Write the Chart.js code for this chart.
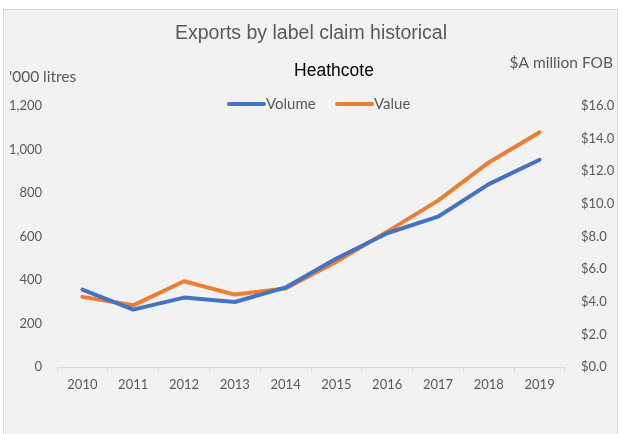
<!DOCTYPE html>
<html>
<head>
<meta charset="utf-8">
<script src="https://cdn.jsdelivr.net/npm/chart.js@4.4.1/dist/chart.umd.min.js"></script>
<style>
    html, body { margin: 0; padding: 0; background: #fff; }
    #wrap { width: 620px; height: 434px; }
</style>
</head>
<body>
<div id="wrap"><canvas id="chartExports" width="620" height="434"></canvas></div>
<script>
// datos
const years = ['2010', '2011', '2012', '2013', '2014', '2015', '2016', '2017', '2018', '2019'];
const volume = [356, 264, 319, 299, 366, 499, 615, 691, 841, 953];   // '000 litres
const value = [4.30, 3.78, 5.26, 4.44, 4.81, 6.45, 8.30, 10.20, 12.54, 14.39]; // $A million FOB
const volumeTicks = [0, 200, 400, 600, 800, 1000, 1200];
const valueTicks = [0, 2, 4, 6, 8, 10, 12, 14, 16];

const GRAY = '#595959';
const BLUE = '#4472c4';
const ORANGE = '#ed7d31';
const TICK_FONT = { family: 'Lato', size: 13 };

const canvas = document.getElementById('chartExports');
const ctx = canvas.getContext('2d');

// fondo gris con borde, como el panel de Excel
const panelPlugin = {
    id: 'panel',
    beforeDraw(chart) {
        const c = chart.ctx;
        c.save();
        c.fillStyle = '#ffffff';
        c.fillRect(0, 0, chart.width, chart.height);
        c.fillStyle = '#f2f2f2';
        c.fillRect(3, 9, 615, 430);
        c.strokeStyle = '#d9d9d9';
        c.lineWidth = 1;
        c.strokeRect(3.5, 9.5, 614, 430);
        c.restore();
    }
};

// titulos, nombres de ejes y leyenda
const textPlugin = {
    id: 'textos',
    afterDraw(chart) {
        const c = chart.ctx;
        c.save();
        c.textBaseline = 'middle';

        c.fillStyle = GRAY;
        c.font = '19.5px "Liberation Sans", Arial, sans-serif';
        c.textAlign = 'center';
        c.fillText('Exports by label claim historical', 311, 34);

        c.fillStyle = '#000000';
        c.font = '17.5px "Liberation Sans", Arial, sans-serif';
        c.fillText('Heathcote', 334, 71);

        c.fillStyle = GRAY;
        c.font = '15.5px Lato, sans-serif';
        c.textAlign = 'left';
        c.fillText("'000 litres", 9, 77);
        c.textAlign = 'right';
        c.fillText('$A million FOB', 613, 63);

        // leyenda
        const items = [
            { label: 'Volume', color: BLUE, x: 229 },
            { label: 'Value', color: ORANGE, x: 337 }
        ];
        c.font = '15px Lato, sans-serif';
        c.textAlign = 'left';
        items.forEach(it => {
            c.strokeStyle = it.color;
            c.lineWidth = 4;
            c.lineCap = 'round';
            c.beginPath();
            c.moveTo(it.x, 104);
            c.lineTo(it.x + 35, 104);
            c.stroke();
            c.fillStyle = GRAY;
            c.fillText(it.label, it.x + 37, 104);
        });
        c.restore();
    }
};

const chartExports = new Chart(ctx, {
    type: 'line',
    data: {
        labels: years,
        datasets: [{
            label: 'Volume',
            data: volume,
            borderColor: BLUE,
            backgroundColor: BLUE,
            borderWidth: 4,
            pointRadius: 0,
            tension: 0,
            borderCapStyle: 'round',
            borderJoinStyle: 'round',
            yAxisID: 'y'
        }, {
            label: 'Value',
            data: value,
            borderColor: ORANGE,
            backgroundColor: ORANGE,
            borderWidth: 4,
            pointRadius: 0,
            tension: 0,
            borderCapStyle: 'round',
            borderJoinStyle: 'round',
            yAxisID: 'y1'
        }]
    },
    options: {
        responsive: false,
        animation: false,
        layout: { padding: { top: 106, bottom: 0, left: 0, right: 0 } },
        plugins: {
            legend: { display: false },
            title: { display: false },
            tooltip: { enabled: false }
        },
        scales: {
            x: {
                offset: true,
                grid: {
                    offset: true,
                    drawOnChartArea: false,
                    drawTicks: true,
                    tickLength: 5,
                    color: '#d9d9d9'
                },
                border: { display: true, color: '#d9d9d9', width: 1 },
                ticks: { color: GRAY, font: TICK_FONT, padding: 5, maxRotation: 0 },
                afterFit: (scale) => { scale.height = 67; }
            },
            y: {
                position: 'left',
                min: 0,
                max: 1200,
                afterBuildTicks: (scale) => { scale.ticks = volumeTicks.map(v => ({ value: v })); },
                grid: { display: false, drawTicks: false },
                border: { display: false },
                ticks: {
                    color: GRAY,
                    font: TICK_FONT,
                    padding: 15,
                    callback: (v) => v.toLocaleString('en-US')
                },
                afterFit: (scale) => { scale.width = 57; }
            },
            y1: {
                position: 'right',
                min: 0,
                max: 16,
                afterBuildTicks: (scale) => { scale.ticks = valueTicks.map(v => ({ value: v })); },
                grid: { display: false, drawTicks: false },
                border: { display: false },
                ticks: {
                    color: GRAY,
                    font: TICK_FONT,
                    padding: 16,
                    callback: (v) => '$' + Number(v).toFixed(1)
                },
                afterFit: (scale) => { scale.width = 55; }
            }
        }
    },
    plugins: [panelPlugin, textPlugin]
});
</script>
</body>
</html>
